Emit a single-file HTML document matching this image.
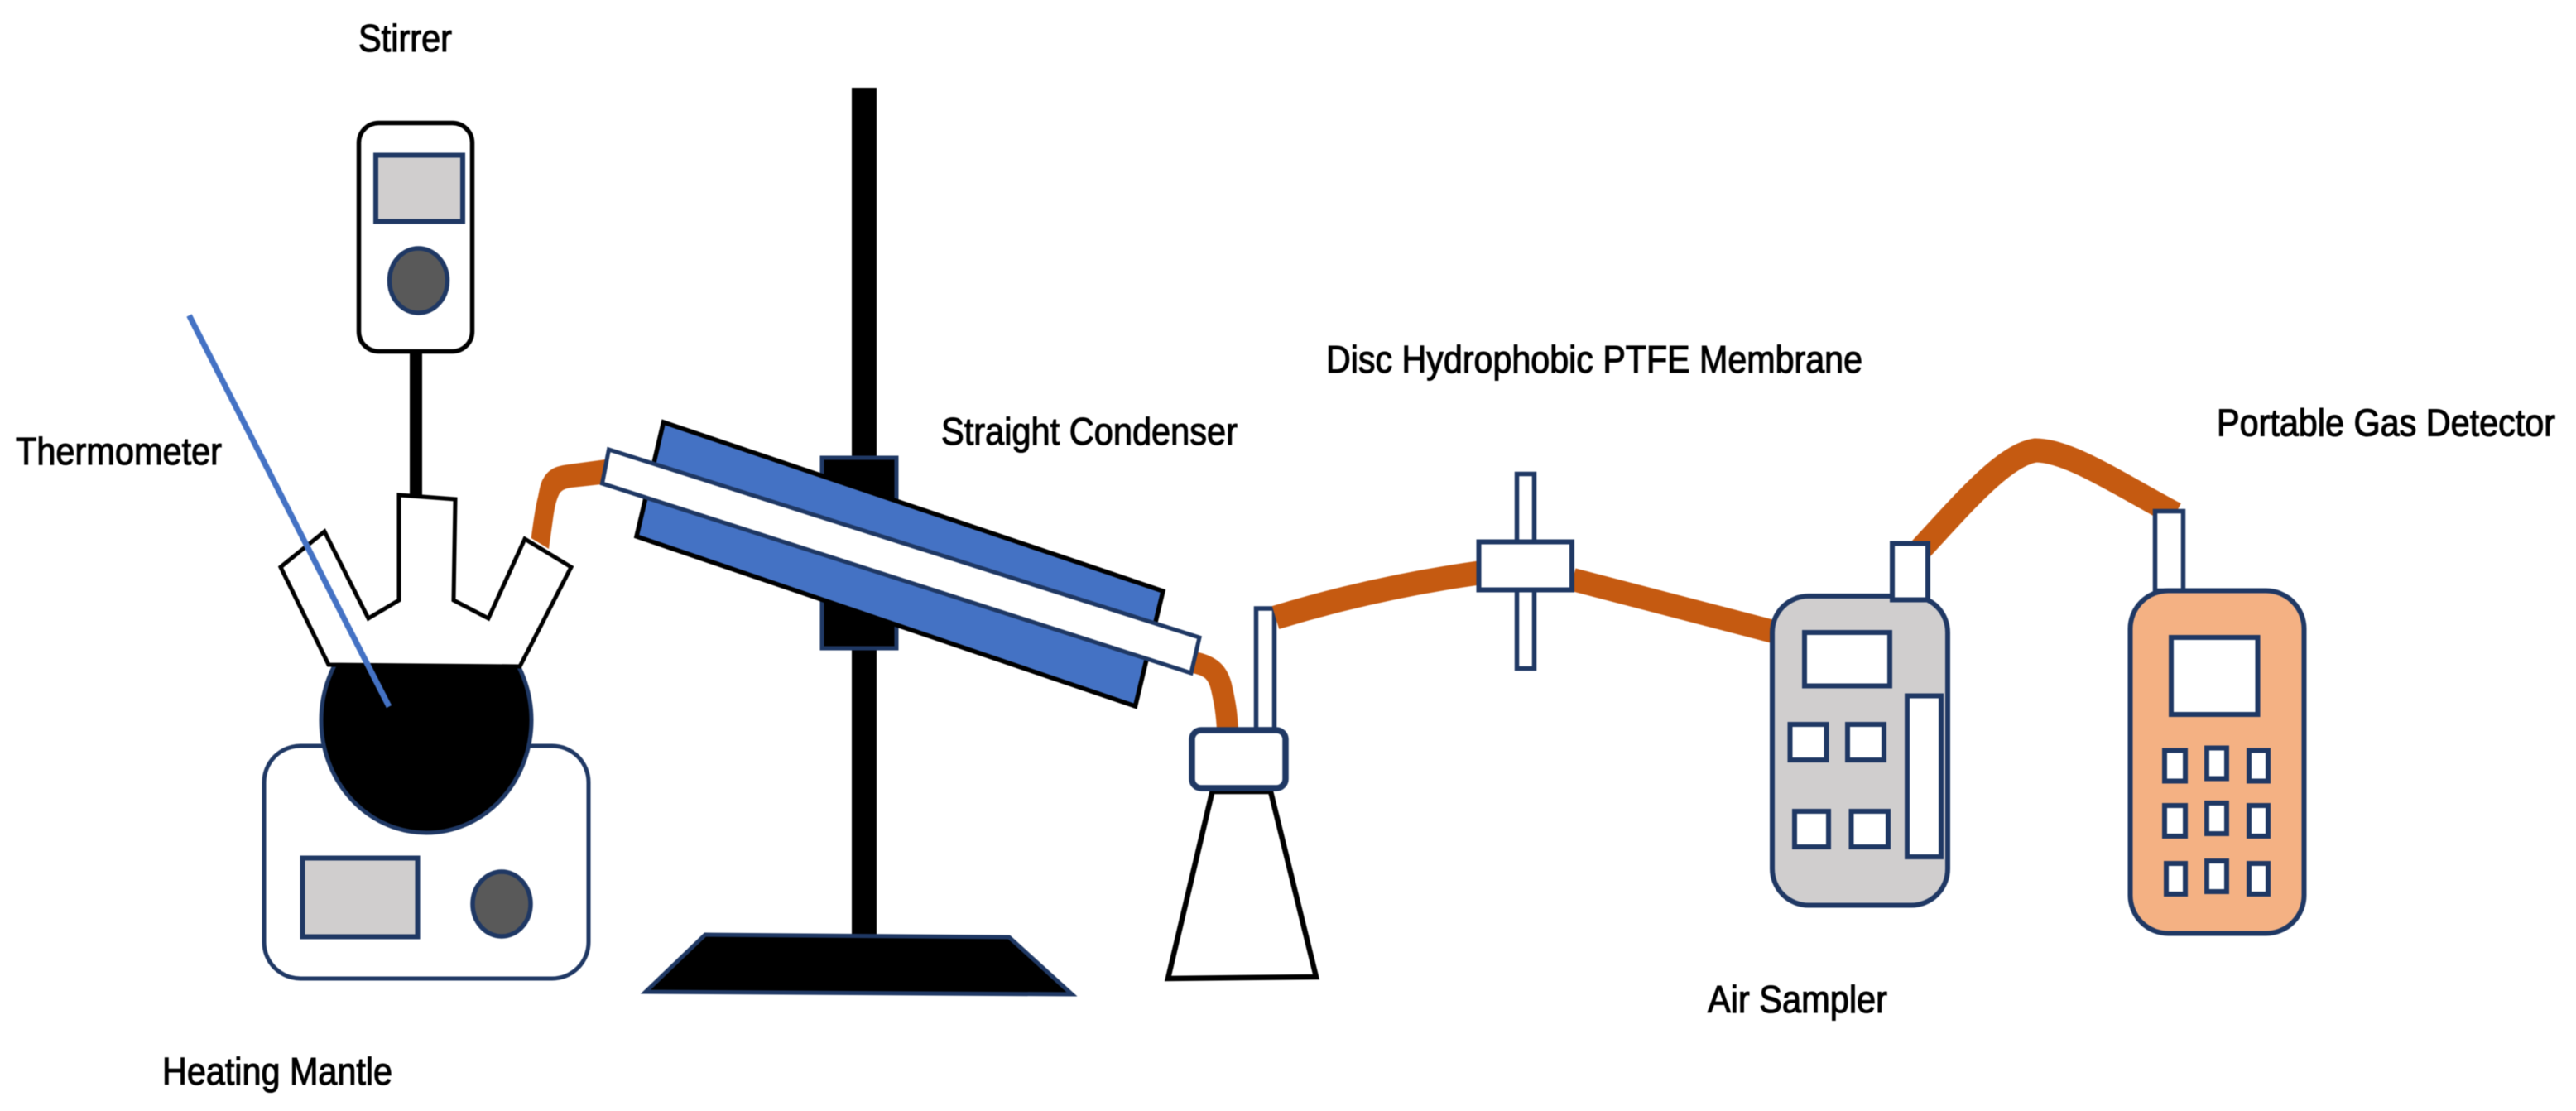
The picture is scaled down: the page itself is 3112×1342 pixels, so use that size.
<!DOCTYPE html>
<html lang="en"><head><meta charset="utf-8"><title>Apparatus diagram</title>
<style>html,body{margin:0;padding:0;background:#fff}svg{display:block}text{font-family:"Liberation Sans",Arial,sans-serif;fill:#000;stroke:#000;stroke-width:1}</style></head>
<body>
<svg xmlns="http://www.w3.org/2000/svg" width="3112" height="1342" viewBox="0 0 3112 1342">
<defs><clipPath id="ballclip"><rect x="370" y="803" width="300" height="220"/></clipPath></defs>
<rect width="3112" height="1342" fill="#fff"/>
<g style="filter:blur(.6px)">
<!-- Mantle -->
<rect x="319" y="901" width="392" height="281" rx="44" fill="#fff" stroke="#1F3864" stroke-width="5"/>
<rect x="365.500" y="1036.500" width="139" height="95" fill="#D0CECE" stroke="#1F3864" stroke-width="6"/>
<ellipse cx="606" cy="1092" rx="35" ry="39" fill="#595959" stroke="#1F3864" stroke-width="5.500"/>

<!-- Stirrer -->
<rect x="433.500" y="148.500" width="137" height="276" rx="24" fill="#fff" stroke="#000" stroke-width="5.500"/>
<rect x="454" y="187.500" width="105" height="80" fill="#D0CECE" stroke="#1F3864" stroke-width="6"/>
<ellipse cx="505.500" cy="339" rx="35" ry="39" fill="#595959" stroke="#1F3864" stroke-width="5.500"/>
<rect x="495" y="426" width="15" height="175" fill="#000"/>

<!-- Tube to condenser -->
<path d="M641.700 650 C645 625 647 612 650 600 C652 590 653 583 657 577 C661 570 666 567 670 565 C675 563 680 562 687 561 L732 555 L727 585 L690 589 C682 590 677 593 675 598 C672 605 670 612 668 627 L663 663 Z" fill="#C55A11"/>

<!-- Flask -->
<ellipse cx="515" cy="870" rx="127" ry="136" fill="#000" stroke="#1F3864" stroke-width="5" clip-path="url(#ballclip)"/>
<polygon points="339,685 392,642 445,747 482,725 482,598 550,603 548,725 590,747 634,651 690,685 628,805 397,803" fill="#fff" stroke="#000" stroke-width="5"/>
<line x1="228.500" y1="381" x2="470" y2="853.500" stroke="#4472C4" stroke-width="7"/>

<!-- Stand -->
<rect x="1029" y="106" width="30" height="1025" fill="#000"/>
<rect x="993" y="553" width="90" height="230" fill="#000" stroke="#1F3864" stroke-width="5"/>
<polygon points="852,1129 1219,1132 1295,1201 780,1198" fill="#000" stroke="#1F3864" stroke-width="5"/>

<!-- Condenser -->
<polygon points="801.500,510 1405,714 1371.500,853 769,648" fill="#4472C4" stroke="#000" stroke-width="5.500"/>

<!-- Tube to receiving flask -->
<path d="M1442 800 C1462 804 1472 812 1476 832 C1480 850 1482 862 1483 882" fill="none" stroke="#C55A11" stroke-width="26"/>
<polygon points="735.500,543 1449,770 1439,813 727.500,584" fill="#fff" stroke="#1F3864" stroke-width="5"/>

<!-- Receiving flask -->
<polygon points="1464.500,956 1411,1182 1590,1180 1535,956" fill="#fff" stroke="#000" stroke-width="6.500"/>
<rect x="1517.500" y="735" width="22" height="146" fill="#fff" stroke="#1F3864" stroke-width="5.500"/>
<rect x="1440" y="882" width="113" height="70" rx="11" fill="#fff" stroke="#1F3864" stroke-width="7.500"/>

<!-- Tubes to filter and sampler -->
<path d="M1541 746 C1620 722 1700 704 1787 692" fill="none" stroke="#C55A11" stroke-width="29"/>
<path d="M1900 700 L2150 765" fill="none" stroke="#C55A11" stroke-width="28"/>
<rect x="1832.500" y="572.500" width="21" height="235" fill="#fff" stroke="#1F3864" stroke-width="5.500"/>
<rect x="1786.500" y="654.500" width="112.500" height="58" fill="#fff" stroke="#1F3864" stroke-width="6"/>

<!-- Sampler to detector tube -->
<path d="M2316 668 C2370 610 2420 550 2459 544 C2500 544 2560 585 2628 621" fill="none" stroke="#C55A11" stroke-width="29"/>

<!-- Air sampler -->
<rect x="2141" y="720" width="212" height="373.500" rx="44" fill="#D0CECE" stroke="#1F3864" stroke-width="6"/>
<rect x="2286" y="656.500" width="43" height="68" fill="#fff" stroke="#1F3864" stroke-width="6"/>
<rect x="2180" y="764" width="103" height="64.500" fill="#fff" stroke="#1F3864" stroke-width="6"/>
<rect x="2162.500" y="875" width="44" height="43" fill="#fff" stroke="#1F3864" stroke-width="6"/>
<rect x="2232" y="875" width="44" height="43" fill="#fff" stroke="#1F3864" stroke-width="6"/>
<rect x="2168" y="980" width="41" height="43" fill="#fff" stroke="#1F3864" stroke-width="6"/>
<rect x="2236.500" y="980" width="44.500" height="43" fill="#fff" stroke="#1F3864" stroke-width="6"/>
<rect x="2304" y="840.500" width="41" height="194.500" fill="#fff" stroke="#1F3864" stroke-width="6"/>

<!-- Gas detector -->
<rect x="2603.500" y="617.500" width="34" height="96" fill="#fff" stroke="#1F3864" stroke-width="5.500"/>
<rect x="2573.500" y="713.500" width="210" height="414" rx="46" fill="#F4B183" stroke="#1F3864" stroke-width="6"/>
<rect x="2623" y="770" width="104.500" height="93" fill="#fff" stroke="#1F3864" stroke-width="6"/>
<g fill="#fff" stroke="#1F3864" stroke-width="6">
<rect x="2615" y="906.500" width="25" height="37"/>
<rect x="2666" y="903.500" width="24" height="37"/>
<rect x="2717" y="906.500" width="23" height="37"/>
<rect x="2615" y="973" width="25" height="37"/>
<rect x="2666" y="970" width="24" height="37"/>
<rect x="2717" y="973" width="23" height="37"/>
<rect x="2617" y="1043" width="23" height="37"/>
<rect x="2666" y="1040" width="24" height="37"/>
<rect x="2717" y="1043" width="23" height="37"/>
</g>

<!-- Labels -->
<g font-size="41.4">
<text transform="translate(433,62) scale(1,1.11)" textLength="113" lengthAdjust="spacingAndGlyphs">Stirrer</text>
<text transform="translate(19,561) scale(1,1.11)" textLength="249" lengthAdjust="spacingAndGlyphs">Thermometer</text>
<text transform="translate(196,1310) scale(1,1.11)" textLength="278" lengthAdjust="spacingAndGlyphs">Heating Mantle</text>
<text transform="translate(1137,537) scale(1,1.11)" textLength="358" lengthAdjust="spacingAndGlyphs">Straight Condenser</text>
<text transform="translate(1602,450) scale(1,1.11)" textLength="648" lengthAdjust="spacingAndGlyphs">Disc Hydrophobic PTFE Membrane</text>
<text transform="translate(2678,526.500) scale(1,1.11)" textLength="409" lengthAdjust="spacingAndGlyphs">Portable Gas Detector</text>
<text transform="translate(2063,1223) scale(1,1.11)" textLength="217" lengthAdjust="spacingAndGlyphs">Air Sampler</text>
</g>
</g>
</svg>
</body></html>
